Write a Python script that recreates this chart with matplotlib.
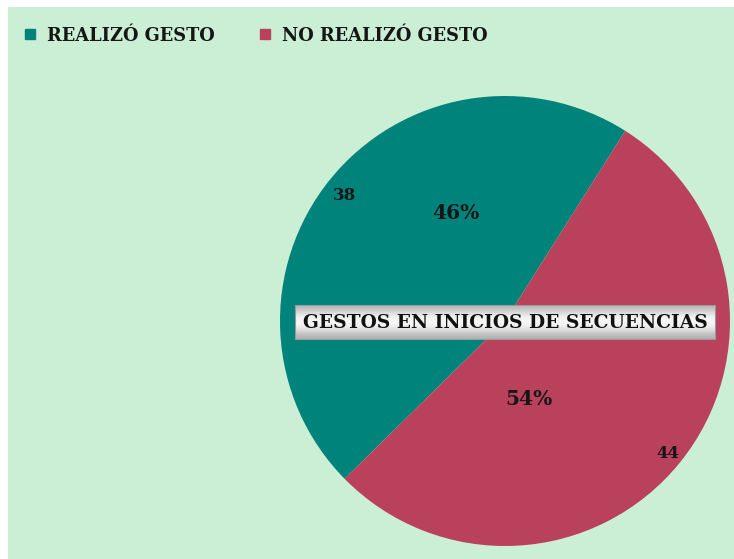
import numpy as np
import matplotlib.pyplot as plt

categories = ["REALIZÓ GESTO", "NO REALIZÓ GESTO"]
counts = [38, 44]
colors = ["#00837b", "#b9415b"]
title = "GESTOS EN INICIOS DE SECUENCIAS"

W, H = 734, 559
bg = "#cbefd4"
serif = ["DejaVu Serif"]
ink = "#161616"

fig = plt.figure(figsize=(W / 100, H / 100), dpi=100)
fig.patch.set_facecolor("white")
ax = fig.add_axes([0, 0, 1, 1])

# chart area background, leaving a thin white strip top and left
ax.add_patch(plt.Rectangle((8, -2), W - 6, H - 5, facecolor=bg,
                           edgecolor="none", zorder=0))

cx, cy, r = 505, H - 321, 225
total = sum(counts)
start = 57.7
wedges, _ = ax.pie(counts, colors=colors, startangle=start, counterclock=True,
                   center=(cx, cy), radius=r, frame=True,
                   wedgeprops=dict(linewidth=0))

# value and percentage labels
pct = [100 * c / total for c in counts]
ax.text(344, H - 196, str(counts[0]), fontsize=12, fontweight="bold",
        family=serif, color=ink, ha="center", va="center")
ax.text(456, H - 213, f"{pct[0]:.0f}%", fontsize=14.5, fontweight="bold",
        family=serif, color=ink, ha="center", va="center")
ax.text(529, H - 399, f"{pct[1]:.0f}%", fontsize=14.5, fontweight="bold",
        family=serif, color=ink, ha="center", va="center")
ax.text(668, H - 453, str(counts[1]), fontsize=12, fontweight="bold",
        family=serif, color=ink, ha="center", va="center")

# title box with vertical gray gradient
x0, x1, y0, y1 = 295, 715, H - 339, H - 305
grad = np.array([0.72, 0.85, 0.95, 0.97, 0.93, 0.82, 0.70]).reshape(-1, 1)
ax.imshow(grad, cmap="gray", vmin=0, vmax=1, extent=(x0, x1, y0, y1),
          aspect="auto", zorder=3, interpolation="bicubic")
ax.add_patch(plt.Rectangle((x0, y0), x1 - x0, y1 - y0, fill=False,
                           edgecolor="#9a9a9a", linewidth=0.8, zorder=4))
ax.text((x0 + x1) / 2, (y0 + y1) / 2 - 1, title, fontsize=13.4,
        fontweight="bold", family=serif, color="#111111",
        ha="center", va="center", zorder=5)

# legend
for i, (lab, col) in enumerate(zip(categories, colors)):
    lx = [25, 260][i]
    ax.add_patch(plt.Rectangle((lx, H - 39), 10, 10, color=col, zorder=3))
    ax.text(lx + 22, H - 36, lab, fontsize=12.8, fontweight="bold",
            family=serif, color=ink, ha="left", va="center")

ax.set_xlim(0, W)
ax.set_ylim(0, H)
ax.set_aspect("equal")
ax.axis("off")

fig.savefig("out.png", dpi=100, facecolor=fig.get_facecolor())
